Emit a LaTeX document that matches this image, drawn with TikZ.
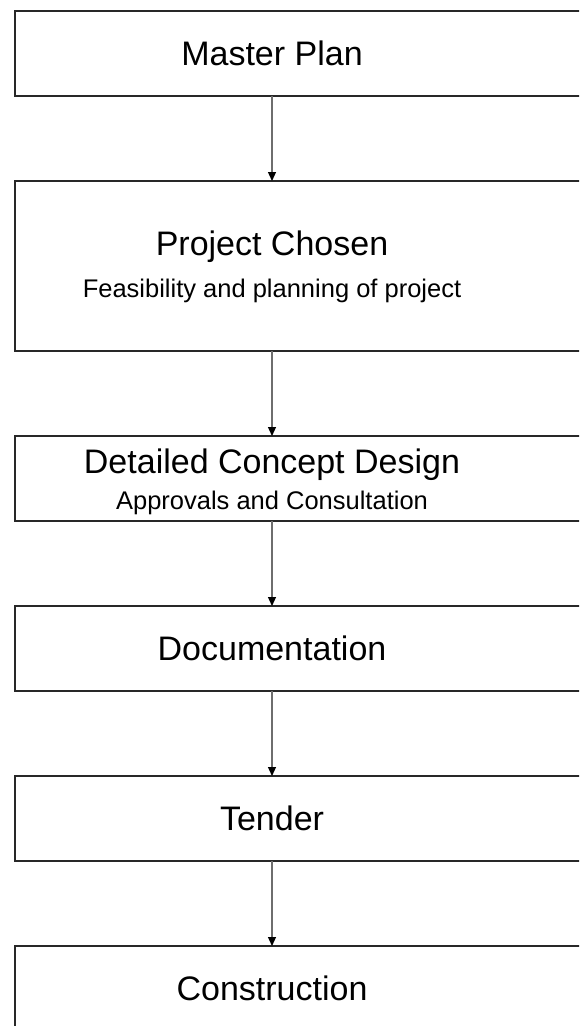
\documentclass[tikz,border=0pt]{standalone}
\usepackage{fontspec}
\setmainfont{Liberation Sans}
\usepackage{xcolor}
\definecolor{boxGray}{RGB}{40, 40, 40}
\definecolor{lineGray}{RGB}{110, 110, 110}
\usetikzlibrary{arrows.meta, positioning}
\tikzset{
    stage/.style={draw=boxGray, line width=1.2pt, minimum width=620pt, minimum height=85pt, inner sep=0pt, outer sep=0pt},
    title/.style={font=\fontsize{34}{40}\selectfont, anchor=base, inner sep=0pt},
    subtitle/.style={font=\fontsize{25.5}{30}\selectfont, anchor=base, inner sep=0pt},
    flow/.style={-{Triangle[width=8pt, length=9pt, color=black]}, line width=1.2pt, draw=lineGray}
}

\begin{document}
\begin{tikzpicture}[x=1pt, y=-1pt]
    \useasboundingbox (0,0) rectangle (579,1026);
    \clip (0,0) rectangle (579,1026);
    \coordinate (axis) at (272,0);

    % --- STAGE BOXES ---
    \node[stage] (plan) at (325,53.5) {};
    \node[stage, minimum height=170pt, below=85pt of plan] (chosen) {};
    \node[stage, below=85pt of chosen] (design) {};
    \node[stage, below=85pt of design] (docs) {};
    \node[stage, below=85pt of docs] (tender) {};
    \node[stage, below=85pt of tender] (build) {};

    % --- LABELS ---
    \node[title, yshift=-11.5pt] (planTxt) at (plan.center -| axis) {Master Plan};
    \node[title, yshift=11pt] (chosenTxt) at (chosen.center -| axis) {Project Chosen};
    \node[subtitle, yshift=-31pt] (chosenSub) at (chosen.center -| axis) {Feasibility and planning of project};
    \node[title, yshift=5.5pt] (designTxt) at (design.center -| axis) {Detailed Concept Design};
    \node[subtitle, yshift=-30.5pt] (designSub) at (design.center -| axis) {Approvals and Consultation};
    \node[title, yshift=-11.5pt] (docsTxt) at (docs.center -| axis) {Documentation};
    \node[title, yshift=-11.5pt] (tenderTxt) at (tender.center -| axis) {Tender};
    \node[title, yshift=-11.5pt] (buildTxt) at (build.center -| axis) {Construction};

    % --- FLOW ---
    \draw[flow] (plan.south -| axis) -- (chosen.north -| axis);
    \draw[flow] (chosen.south -| axis) -- (design.north -| axis);
    \draw[flow] (design.south -| axis) -- (docs.north -| axis);
    \draw[flow] (docs.south -| axis) -- (tender.north -| axis);
    \draw[flow] (tender.south -| axis) -- (build.north -| axis);
\end{tikzpicture}
\end{document}
